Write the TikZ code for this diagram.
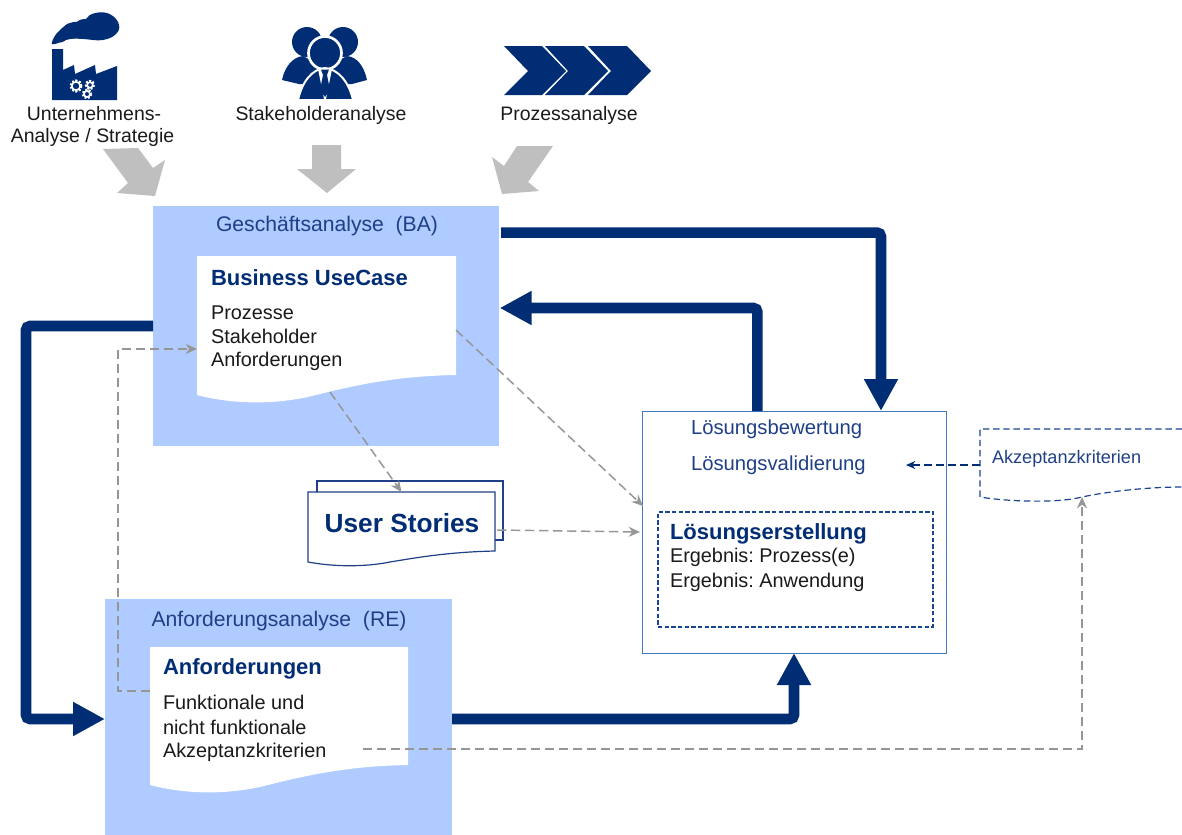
\documentclass[tikz,border=0pt]{standalone}
\usepackage{fontspec}
\setmainfont{Liberation Sans}
\usetikzlibrary{arrows.meta}
\definecolor{navy}{HTML}{002D74}
\definecolor{txtblue}{HTML}{1F3F86}
\definecolor{lightb}{HTML}{AFCBFF}
\definecolor{frameb}{HTML}{3F78C0}
\definecolor{arrgray}{HTML}{BFBFBF}
\definecolor{dashgray}{HTML}{969696}
\definecolor{txtk}{HTML}{1A1A1A}
\definecolor{dashblue}{HTML}{1A4592}
\frenchspacing
\tikzset{
  pxbox/.style 2 args={minimum width=#1*0.75pt,minimum height=#2*0.75pt,inner sep=0pt,outer sep=0pt},
  bluearea/.style={fill=lightb},
  lbl/.style={inner sep=0pt,outer sep=0pt,yshift=-0.6pt,font=\fontsize{14.6}{16}\selectfont,text=txtk},
  lblw/.style={lbl,anchor=west,font=\fontsize{14.9}{16}\selectfont},
  bluelbl/.style={lblw,text=txtblue,font=\fontsize{15.2}{16}\selectfont},
  arealbl/.style={lbl,text=txtblue,font=\fontsize{15.85}{17}\selectfont},
  headlbl/.style={lblw,text=navy,font=\fontsize{16.5}{18}\selectfont\bfseries},
  thick arrow/.style={draw=navy,line width=7.9pt,rounded corners=3pt,-{Triangle[length=24pt,width=24pt]}},
  gray link/.style={draw=dashgray,line width=1.1pt,dash pattern=on 7pt off 3.5pt,-{Stealth[length=8.5pt,width=7.5pt]}},
  blue link/.style={draw=navy,line width=1pt,dash pattern=on 6pt off 3pt,-{Stealth[length=7pt,width=6pt]}},
  grayshape/.style={fill=arrgray},
  chev/.style={fill=navy},
}
\begin{document}
\begin{tikzpicture}[x=0.75pt,y=-0.75pt]
\useasboundingbox (0,0) rectangle (1182,835);

% factory icon
\fill[navy] plot[smooth cycle,tension=0.7] coordinates {(52,42) (58,32) (70,23) (83,21) (92,14) (107,13) (118,22) (117,33) (103,40) (83,39) (70,39) (55,44)};
\fill[navy] (71,31) circle (8) (84,29) circle (10) (61,37) circle (5.5);
\fill[navy] (52,49) -- (63,49) -- (63,70) -- (74,65) -- (75,74) -- (95,65) -- (96,74) -- (117,66) -- (117,100) -- (52,100) -- cycle;
\foreach \gx/\gy/\gr in {76/86/4.2,90/85/2.8,87/94/3}{
  \draw[white,line width=2pt,dash pattern=on 1.4pt off 1.1pt] (\gx,\gy) circle (\gr+1);
  \draw[white,line width=1.2pt] (\gx,\gy) circle (\gr);
}

% people icon
\fill[navy] (307,42) circle (15);
\fill[navy] (343,42) circle (15);
\fill[navy] (282,80) .. controls (285,66) and (293,57) .. (303,56) -- (325,68) -- (347,56) .. controls (357,57) and (364,66) .. (367,80) -- (352,84) -- (299,84) -- cycle;
\fill[navy,draw=white,line width=2pt] (325,53) circle (16.5);
\fill[navy,draw=white,line width=1.5pt] (298,100) .. controls (302,82) and (312,69) .. (325,68) .. controls (338,69) and (349,82) .. (353,100) -- cycle;
\fill[white] (318,69) -- (332,69) -- (326,99) -- (324,99) -- cycle;
\fill[navy] (321,69.5) -- (329,69.5) -- (327,75) -- (330,90) -- (325,97) -- (320,90) -- (323,75) -- cycle;

% chevrons
\fill[chev] (504,46) -- (542,46) -- (566,71) -- (542,95) -- (504,95) -- (528,71) -- cycle;
\fill[chev] (545,46) -- (584,46) -- (608,71) -- (584,95) -- (545,95) -- (568,71) -- cycle;
\fill[chev] (588,46) -- (627,46) -- (651,71) -- (627,95) -- (588,95) -- (611,71) -- cycle;

% icon labels
\node[lbl] (lblU1) at (94,113) {Unternehmens-};
\node[lbl] (lblU2) at (92.5,137) {Analyse / Strategie};
\node[lbl] (lblS) at (321,115) {Stakeholderanalyse};
\node[lbl] (lblP) at (569,115) {Prozessanalyse};

% gray block arrows
\fill[grayshape] (103,149) -- (138,148) -- (153,168) -- (165,160) -- (155,196) -- (117,193) -- (128,183) -- cycle;
\fill[grayshape] (312,145) -- (341,145) -- (341,169) -- (356,169) -- (327,193) -- (297,169) -- (312,169) -- cycle;
\fill[grayshape] (517,146) -- (553,146) -- (528,182) -- (539,191) -- (502,194) -- (492,157) -- (504,166) -- cycle;

% areas
\node[pxbox={346}{240},bluearea] (ba) at (326,326) {};
\node[pxbox={347}{236},bluearea] (re) at (278.5,717) {};
\node[pxbox={304}{242},draw=frameb,line width=0.7pt] (loes) at (794,532) {};
\node[pxbox={275}{115},draw=dashblue,line width=0.8pt,dash pattern=on 3.2pt off 1.8pt] (erst) at (795.5,569.5) {};

% documents
\node[pxbox={259}{139}] (badoc) at (326.5,325.5) {};
\fill[white] (197,256) -- (456,256) -- (456,375) .. controls (400,376) and (360,384) .. (320,394) .. controls (280,405) and (235,405) .. (197,395) -- cycle;
\node[pxbox={258}{138}] (redoc) at (279,716) {};
\fill[white] (150,647) -- (408,647) -- (408,765) .. controls (352,766) and (312,774) .. (272,784) .. controls (232,795) and (188,795) .. (150,785) -- cycle;

% user stories
\node[pxbox={186}{59},draw=txtblue,fill=white,line width=0.9pt] (usback) at (410,510.5) {};
\node[pxbox={187}{70}] (us) at (401.5,527) {};
\draw[txtblue,fill=white,line width=0.9pt] (308,492) -- (495,492) -- (495,551) .. controls (450,552) and (420,557) .. (390,562) .. controls (365,567) and (335,567) .. (308,562) -- cycle;

% acceptance document
\node[pxbox={202}{68}] (akz) at (1081,463) {};
\draw[dashblue,line width=0.9pt,dash pattern=on 4.8pt off 2.8pt] (1182,429) -- (980,429) -- (980,497) .. controls (1010,502) and (1060,503) .. (1082,497) .. controls (1110,491) and (1150,487) .. (1182,487);

% texts
\node[arealbl] (tBA) at (327,225) {Geschäftsanalyse\ \ (BA)};
\node[headlbl] (tBU) at (211,277) {Business UseCase};
\node[lblw] (t1) at (211,312) {Prozesse};
\node[lblw] (t2) at (211,336) {Stakeholder};
\node[lblw] (t3) at (211,361) {Anforderungen};
\node[lbl,text=navy,font=\fontsize{19.7}{22}\selectfont\bfseries] (tUS) at (402,522) {User Stories};
\node[bluelbl] (t4) at (691,428) {Lösungsbewertung};
\node[bluelbl] (t5) at (691,464) {Lösungsvalidierung};
\node[headlbl] (t6) at (670,533) {Lösungserstellung};
\node[lblw] (t7) at (670,557) {Ergebnis: Prozess(e)};
\node[lblw] (t8) at (670,582) {Ergebnis: Anwendung};
\node[arealbl] (tRE) at (279,620) {Anforderungsanalyse\ \ (RE)};
\node[headlbl] (tAN) at (163,668) {Anforderungen};
\node[lblw] (t9) at (163,702) {Funktionale und};
\node[lblw] (t10) at (163,727) {nicht funktionale};
\node[lblw] (t11) at (163,752) {Akzeptanzkriterien};
\node[bluelbl,font=\fontsize{13.6}{15}\selectfont] (t12) at (992,458) {Akzeptanzkriterien};

% thick connectors
\draw[thick arrow] ([xshift=1.5pt,yshift=-19.9pt]ba.north east) -| ([xshift=179.25pt]loes.north west);
\draw[thick arrow] ([xshift=86.6pt]loes.north west) |- ([yshift=-76.5pt,xshift=0.5pt]ba.north east);
\coordinate (rail) at (26,326);
\draw[thick arrow] (ba.west) -- (rail) |- ([yshift=-1.5pt]re.west);
\draw[thick arrow] ([yshift=-1.5pt]re.east) -| ([xshift=114pt]loes.south west);

% dashed connectors
\coordinate (backrail) at (118,691);
\draw[gray link] ([yshift=18.75pt]redoc.west) -- (backrail) |- ([yshift=-17.6pt]badoc.west);
\draw[gray link] ([xshift=2.6pt,yshift=2.25pt]badoc.south) -- (us.north);
\draw[gray link] ([yshift=-3.4pt]badoc.east) -- ([yshift=19.5pt,xshift=0.75pt]loes.west);
\draw[gray link] ([xshift=1.5pt,yshift=-2.25pt]us.east) -- ([xshift=-1.5pt]loes.west);
\coordinate (railr) at (1082,749);
\draw[gray link] ([xshift=-33.75pt,yshift=27pt]redoc.south east) -- (railr) -- ([xshift=0.75pt]akz.south);
\coordinate (valid) at (906,465);
\draw[blue link] (akz.west |- valid) -- (valid);
\end{tikzpicture}
\end{document}
